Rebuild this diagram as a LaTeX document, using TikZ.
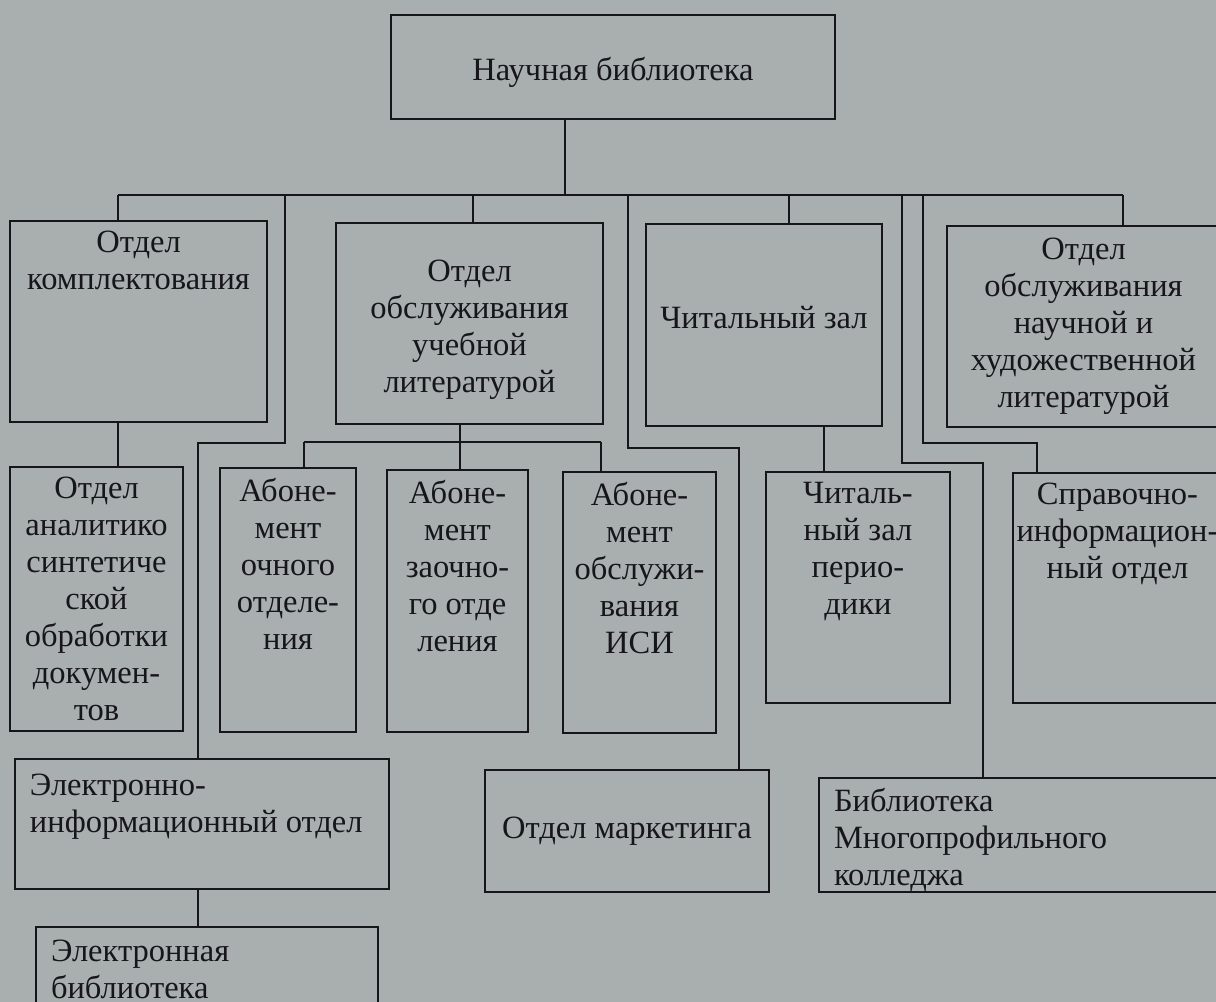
\documentclass[tikz,border=0pt]{standalone}
\usepackage{fontspec}
\setmainfont{Liberation Serif}
\definecolor{paper}{RGB}{169,174,175}
\definecolor{ink}{RGB}{22,22,26}
\def\px{0.4pt}
\def\bodyfont{\fontsize{13pt}{14.8pt}\selectfont}

\begin{document}
\begin{tikzpicture}[x=\px, y=-\px, color=ink, line width=0.8pt]
    \tikzstyle{unit}=[rectangle, draw, inner sep=0pt, font=\bodyfont, align=center]
    \tikzstyle{txt}=[anchor=north, align=center, inner sep=0pt, yshift=-4pt, font=\bodyfont]
    \tikzstyle{ltxt}=[anchor=north west, align=left, inner sep=0pt, xshift=6pt, yshift=-6pt, font=\bodyfont]

    % Page
    \fill[paper] (0,0) rectangle (1216,1002);
    \useasboundingbox (0,0) rectangle (1216,1002);

    % Head of the library
    \node[unit, minimum width=444*\px, minimum height=104*\px,
          label={[txt, yshift=-13pt]north:{Научная библиотека}}] (lib) at (613,67) {};

    % First level departments
    \node[unit, minimum width=257*\px, minimum height=201*\px,
          label={[txt]north:{Отдел\\комплектования}}] (kompl) at (138.5,321.5) {};
    \node[unit, minimum width=267*\px, minimum height=201*\px,
          label={[txt, yshift=-10.8pt]north:{Отдел\\обслуживания\\учебной\\литературой}}] (ucheb) at (469.5,323.5) {};
    \node[unit, minimum width=236*\px, minimum height=202*\px,
          label={[txt, yshift=-29pt]north:{Читальный зал}}] (chit) at (764,325) {};
    \node[unit, minimum width=273*\px, minimum height=201*\px] (nauch) at (1083.5,326.5)
          {Отдел\\обслуживания\\научной и\\художественной\\литературой};

    % Second level departments
    \node[unit, minimum width=173*\px, minimum height=264*\px] (analit) at (96.5,599)
          {Отдел\\аналитико\\синтетиче\\ской\\обработки\\докумен-\\тов};
    \node[unit, minimum width=136*\px, minimum height=264*\px,
          label={[txt]north:{Абоне-\\мент\\очного\\отделе-\\ния}}] (ab1) at (288,600) {};
    \node[unit, minimum width=141*\px, minimum height=262*\px,
          label={[txt]north:{Абоне-\\мент\\заочно-\\го отде\\ления}}] (ab2) at (457.5,601) {};
    \node[unit, minimum width=153*\px, minimum height=261*\px,
          label={[txt]north:{Абоне-\\мент\\обслужи-\\вания\\ИСИ}}] (ab3) at (639.5,602.5) {};
    \node[unit, minimum width=184*\px, minimum height=231*\px,
          label={[txt]north:{Читаль-\\ный зал\\перио-\\дики}}] (period) at (858,587.5) {};
    \node[unit, minimum width=209*\px, minimum height=230*\px,
          label={[txt]north:{Справочно-\\информацион-\\ный отдел}}] (sprav) at (1117.5,588) {};

    % Bottom row
    \node[unit, minimum width=374*\px, minimum height=130*\px,
          label={[ltxt]north west:{Электронно-\\информационный отдел}}] (elinfo) at (202,824) {};
    \node[unit, minimum width=342*\px, minimum height=113*\px,
          label={[ltxt, yshift=1pt]north west:{Электронная\\библиотека}}] (elbib) at (207,983.5) {};
    \node[unit, minimum width=284*\px, minimum height=122*\px] (market) at (627,831) {Отдел маркетинга};
    \node[unit, minimum width=411*\px, minimum height=114*\px,
          label={[ltxt, yshift=2pt]north west:{Библиотека\\Многопрофильного\\колледжа}}] (kolledzh) at (1024.5,835) {};

    % Main bus
    \coordinate (b0) at (565,195);
    \coordinate (bL) at (118,195);
    \coordinate (bR) at (1123,195);
    \draw (lib.south -| b0) -- (b0);
    \draw (bL) -- (bR);
    \draw (bL) -- (bL |- kompl.north);
    \draw (bR) -- (bR |- nauch.north);

    % Drops from the bus
    \coordinate (b2) at (473,195);
    \coordinate (b4) at (789,195);
    \draw (b2) -- (b2 |- ucheb.north);
    \draw (b4) -- (b4 |- chit.north);

    \coordinate (b1) at (285,195);
    \coordinate (e1) at (198,443);
    \draw (b1) -- (b1 |- e1) -- (e1) -- (e1 |- elinfo.north);
    \coordinate (b3) at (628,195);
    \coordinate (m1) at (739,448);
    \draw (b3) -- (b3 |- m1) -- (m1) -- (m1 |- market.north);
    \coordinate (b5) at (902,195);
    \coordinate (k1) at (983,463);
    \draw (b5) -- (b5 |- k1) -- (k1) -- (k1 |- kolledzh.north);
    \coordinate (b6) at (923,195);
    \coordinate (s1) at (1037,443);
    \draw (b6) -- (b6 |- s1) -- (s1) -- (s1 |- sprav.north);

    % Subordinate units
    \draw (kompl.south -| bL) -- (bL |- analit.north);
    \coordinate (u0) at (460,442);
    \coordinate (u1) at (304,442);
    \coordinate (u3) at (601,442);
    \draw (ucheb.south -| u0) -- (u0);
    \draw (u1) -- (u3);
    \foreach \c/\n in {u1/ab1, u0/ab2, u3/ab3}
        \draw (\c) -- (\c |- \n.north);
    \coordinate (c1) at (824,0);
    \draw (chit.south -| c1) -- (c1 |- period.north);
    \draw (elinfo.south -| e1) -- (e1 |- elbib.north);
\end{tikzpicture}
\end{document}
